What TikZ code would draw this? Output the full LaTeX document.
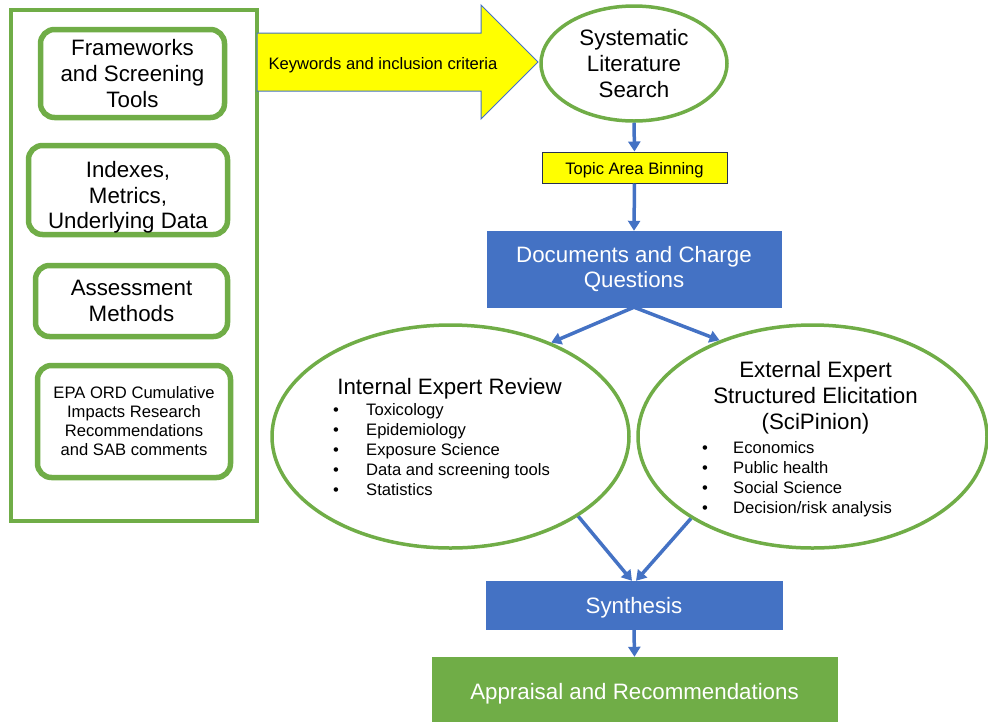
\documentclass[tikz,border=0pt]{standalone}
\usepackage{fontspec}
\setmainfont{Liberation Sans}
\usetikzlibrary{shapes.geometric,arrows.meta}
\definecolor{egreen}{HTML}{70AD47}
\definecolor{eblue}{HTML}{4472C4}
\definecolor{eyellow}{HTML}{FFFF00}
\newcommand\lowertext[2]{\raisebox{-#1}[\height][\depth]{#2}}
\begin{document}
\begin{tikzpicture}[x=1pt,y=-1pt,
  bigfont/.style={font=\fontsize{22.3}{25.8}\selectfont},
  smallfont/.style={font=\fontsize{16.6}{19}\selectfont},
  gbox/.style={draw=egreen, line width=5.5pt, rounded corners=14pt, align=center, inner sep=0pt, fill=white},
  gell/.style={ellipse, draw=egreen, line width=3.5pt, inner sep=0pt, fill=white},
  bbox/.style={fill=eblue, draw=eblue, text=white, align=center, inner sep=0pt, bigfont},
  conn/.style={draw=eblue, line width=3.5pt, -{Triangle[length=10pt,width=12pt]}},
  plain/.style={inner sep=0pt, align=center}
]
\useasboundingbox (0,0) rectangle (988,721);

% left panel
\node[draw=egreen, line width=3.2pt, minimum width=246pt, minimum height=511pt, inner sep=0pt] (panel) at (134,265.5) {};
\node[gbox, bigfont, minimum width=184pt, minimum height=88pt] (fw) at (132.5,73.5) {Frameworks\\and Screening\\Tools};
\node[gbox, bigfont, minimum width=199pt, minimum height=89pt] (idx) at (128,190)
  {\lowertext{8pt}{\begin{tabular}{@{}c@{}}Indexes,\\Metrics,\\Underlying Data\end{tabular}}};
\node[gbox, bigfont, minimum width=192pt, minimum height=71pt] (am) at (131.5,301) {Assessment\\Methods};
\node[gbox, smallfont, minimum width=193pt, minimum height=112pt] (epa) at (134,421.5) {EPA ORD Cumulative\\Impacts Research\\Recommendations\\and SAB comments};

% yellow arrow
\draw[draw=eblue, line width=1pt, fill=eyellow, line join=miter]
  (257,33) -- (481,33) -- (481,5) -- (538,62) -- (481,119) -- (481,91) -- (257,91) -- cycle;
\node[plain, smallfont] (kw) at (383,65) {Keywords and inclusion criteria};

% right column
\node[gell, bigfont, align=center, minimum width=186pt, minimum height=115pt] (sls) at (634,63.5) {Systematic\\Literature\\Search};
\node[fill=eyellow, draw={rgb,255:red,40;green,50;blue,80}, line width=1pt, smallfont, minimum width=185pt, minimum height=31pt, inner sep=0pt] (topic) at (634.5,167.5) {\lowertext{3pt}{Topic Area Binning}};
\node[bbox, minimum width=294pt, minimum height=76pt] (doc) at (634,269) {Documents and Charge\\Questions};

\node[gell, minimum width=357pt, minimum height=223pt] (ier) at (450.5,436.5) {};
\node[plain, bigfont] (ierT) at (449.5,389) {Internal Expert Review};
\node[anchor=north west, inner sep=0pt, smallfont] (ierL) at (333,401)
  {\fontsize{16.6}{20}\selectfont\begin{tabular}{@{}p{33pt}@{}l@{}}
  • & Toxicology\\
  • & Epidemiology\\
  • & Exposure Science\\
  • & Data and screening tools\\
  • & Statistics
  \end{tabular}};

\node[gell, minimum width=349pt, minimum height=223pt] (eese) at (812.5,436.5) {};
\node[plain, bigfont] (eeseT) at (815.5,398) {External Expert\\Structured Elicitation\\(SciPinion)};
\node[anchor=north west, inner sep=0pt, smallfont] (eeseL) at (702,439)
  {\fontsize{16.6}{20}\selectfont\begin{tabular}{@{}p{31pt}@{}l@{}}
  • & Economics\\
  • & Public health\\
  • & Social Science\\
  • & Decision/risk analysis
  \end{tabular}};

\node[bbox, minimum width=296pt, minimum height=48pt] (syn) at (634,605) {\lowertext{2.5pt}{Synthesis}};
\node[bbox, fill=egreen, draw=egreen, minimum width=405pt, minimum height=70pt] (app) at (634.5,692) {\lowertext{1.5pt}{Appraisal and Recommendations}};

% connectors
\draw[conn] (sls.south) -- (topic.north);
\draw[conn] (topic.south) -- (doc.north);
\draw[conn] (doc.south) -- (ier.43.8);
\draw[conn] (doc.south) -- (eese.134.4);
\draw[conn] (ier.-32.5) -- ([xshift=-2pt]syn.north);
\draw[conn] (eese.-146) -- ([xshift=2pt]syn.north);
\draw[conn] (syn.south) -- (app.north);
\end{tikzpicture}
\end{document}
